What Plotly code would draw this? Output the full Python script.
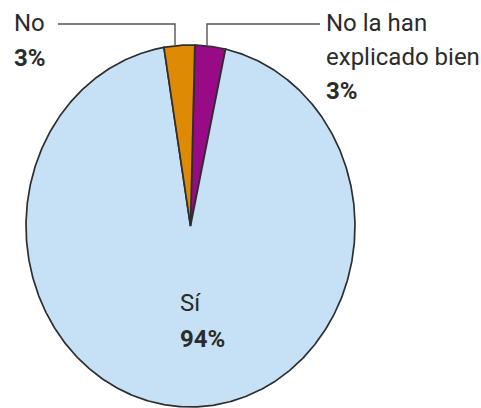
import numpy as np
import plotly.graph_objects as go

# Data (clockwise order starting just right of 12 o'clock)
labels = ["No la han explicado bien", "Sí", "No"]
values = [3, 94, 3]
pct_text = ["3%", "94%", "3%"]
colors = ["#980a86", "#c6e0f5", "#df8a05"]

W, H = 481, 408
cx, cy = 190.5, 226.0
rx, ry = 164.5, 181.0
start_deg = 1.5
outline = "#2e2e2e"
txt_col = "#2b2b2b"
FONT = "Roboto, Arial, sans-serif"

fig = go.Figure()
total = float(sum(values))
cum = start_deg
for lab, v, col in zip(labels, values, colors):
    a0 = cum
    a1 = cum + 360.0 * v / total
    cum = a1
    th = np.radians(np.linspace(a0, a1, max(8, int((a1 - a0) * 2))))
    xs = np.concatenate([[cx], cx + rx * np.sin(th), [cx]])
    ys = np.concatenate([[cy], cy - ry * np.cos(th), [cy]])
    fig.add_trace(go.Scatter(x=xs, y=ys, fill="toself", fillcolor=col,
                             mode="lines", line=dict(color=outline, width=1.7),
                             name=lab, hoverinfo="name", showlegend=False))

# leader lines
lc = "#555555"
fig.add_trace(go.Scatter(x=[58, 175, 175], y=[24, 24, 46], mode="lines",
                         line=dict(color=lc, width=1.4), hoverinfo="skip", showlegend=False))
fig.add_trace(go.Scatter(x=[207, 207, 320], y=[46, 24, 24], mode="lines",
                         line=dict(color=lc, width=1.4), hoverinfo="skip", showlegend=False))

def ann(text, x, y, bold=False):
    fig.add_annotation(x=x, y=y, xref="x", yref="y", text=f"<b>{text}</b>" if bold else text,
                       showarrow=False, xanchor="left", yanchor="middle",
                       font=dict(family=FONT, size=24, color=txt_col))

# "No" label
ann(labels[2], 12, 23)
ann(pct_text[2], 12, 58, bold=True)
# "No la han explicado bien" label
ann("No la han", 324, 23)
ann("explicado bien", 324, 57)
ann(pct_text[0], 324, 91, bold=True)
# "Sí" label
ann(labels[1], 178, 303)
ann(pct_text[1], 178, 339, bold=True)

fig.update_layout(
    width=W, height=H, margin=dict(l=0, r=0, t=0, b=0),
    paper_bgcolor="white", plot_bgcolor="white",
    xaxis=dict(range=[0, W], visible=False, fixedrange=True),
    yaxis=dict(range=[H, 0], visible=False, fixedrange=True),
)
fig.write_html("out.html")
